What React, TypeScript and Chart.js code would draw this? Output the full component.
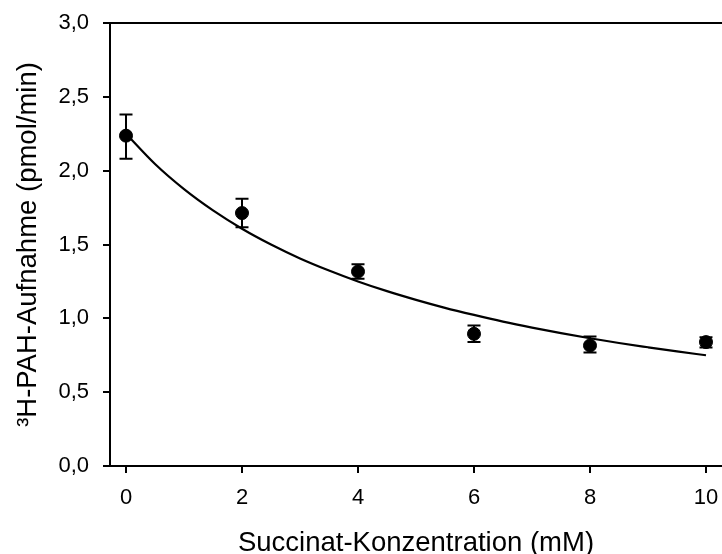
import React, { useEffect, useRef } from "react";
import { Chart, registerables } from "chart.js";

Chart.register(...registerables);

const concentrations = [0, 2, 4, 6, 8, 10];
const uptake = [2.237, 1.713, 1.317, 0.895, 0.816, 0.839];
const errLower = [2.08, 1.616, 1.268, 0.839, 0.768, 0.802];
const errUpper = [2.38, 1.81, 1.367, 0.951, 0.877, 0.872];

const fitX = [0, 0.5, 1, 1.5, 2, 2.5, 3, 3.5, 4, 4.5, 5, 5.5, 6, 6.5, 7, 7.5, 8, 8.5, 9, 9.5, 10];
const fitY = [2.25, 2.045, 1.875, 1.731, 1.607, 1.5, 1.406, 1.324, 1.25, 1.184, 1.125, 1.071, 1.023, 0.978, 0.9375, 0.9, 0.865, 0.833, 0.804, 0.776, 0.75];

const xTicks = [0, 2, 4, 6, 8, 10];
const xTitle = "Succinat-Konzentration (mM)";
const yTitle = "³H-PAH-Aufnahme (pmol/min)";

const errorBarPlugin = {
  id: "errorBars",
  afterDatasetsDraw(chart: any) {
    const { ctx, scales } = chart;
    const xs = scales.x;
    const ys = scales.y;
    ctx.save();
    ctx.strokeStyle = "#000";
    ctx.lineWidth = 2;
    const cap = 6.5;
    concentrations.forEach((c, i) => {
      const px = xs.getPixelForValue(c);
      const pLo = ys.getPixelForValue(errLower[i]);
      const pHi = ys.getPixelForValue(errUpper[i]);
      ctx.beginPath();
      ctx.moveTo(px, pLo);
      ctx.lineTo(px, pHi);
      ctx.moveTo(px - cap, pLo);
      ctx.lineTo(px + cap, pLo);
      ctx.moveTo(px - cap, pHi);
      ctx.lineTo(px + cap, pHi);
      ctx.stroke();
    });
    ctx.restore();
  },
};

const topFramePlugin = {
  id: "topFrame",
  afterDraw(chart: any) {
    const { ctx, chartArea } = chart;
    ctx.save();
    ctx.strokeStyle = "#000";
    ctx.lineWidth = 2;
    ctx.beginPath();
    ctx.moveTo(chartArea.left - 7, chartArea.top);
    ctx.lineTo(chartArea.right, chartArea.top);
    ctx.stroke();
    ctx.restore();
  },
};

export default function App() {
  const ref = useRef<HTMLCanvasElement | null>(null);

  useEffect(() => {
    document.body.style.margin = "0";
    const canvas = ref.current;
    if (!canvas) return;
    const font = "'Liberation Sans', Arial, sans-serif";
    const chart = new Chart(canvas, {
      type: "scatter",
      data: {
        datasets: [
          {
            type: "line",
            label: "fit",
            data: fitX.map((x, i) => ({ x, y: fitY[i] })),
            borderColor: "#000",
            borderWidth: 2.2,
            pointRadius: 0,
            tension: 0.4,
            cubicInterpolationMode: "monotone",
            fill: false,
          } as any,
          {
            label: "data",
            data: concentrations.map((x, i) => ({ x, y: uptake[i] })),
            backgroundColor: "#000",
            borderColor: "#000",
            pointRadius: 6.5,
            pointHoverRadius: 6.5,
          },
        ],
      },
      options: {
        responsive: false,
        animation: false,
        layout: { autoPadding: false, padding: { top: 23, left: 0, right: 0, bottom: 0 } },
        plugins: {
          legend: { display: false },
          tooltip: { enabled: false },
        },
        scales: {
          x: {
            type: "linear",
            min: -0.276,
            max: 10.276,
            afterBuildTicks: (scale: any) => {
              scale.ticks = xTicks.map((v) => ({ value: v }));
            },
            afterFit: (scale: any) => {
              scale.height = 88;
              scale.paddingLeft = 0;
              scale.paddingRight = 0;
            },
            grid: {
              drawOnChartArea: false,
              drawTicks: true,
              tickLength: 7,
              color: "#000",
              lineWidth: 2,
            },
            border: { color: "#000", width: 2 },
            ticks: {
              color: "#000",
              font: { family: font, size: 22 },
              padding: 12,
              maxRotation: 0,
              callback: (v: any) => String(v),
            },
            title: {
              display: true,
              text: xTitle,
              color: "#000",
              font: { family: font, size: 27.5, lineHeight: 0.8 },
              padding: { top: 0, bottom: 0 },
            },
          },
          y: {
            type: "linear",
            min: 0,
            max: 3,
            afterFit: (scale: any) => {
              scale.width = 110;
              scale.paddingTop = 0;
              scale.paddingBottom = 0;
            },
            grid: {
              drawOnChartArea: false,
              drawTicks: true,
              tickLength: 7,
              color: "#000",
              lineWidth: 2,
            },
            border: { color: "#000", width: 2 },
            ticks: {
              stepSize: 0.5,
              color: "#000",
              font: { family: font, size: 22 },
              padding: 14,
              callback: (v: any) => Number(v).toFixed(1).replace(".", ","),
            },
            title: {
              display: true,
              text: yTitle,
              color: "#000",
              font: { family: font, size: 27.5, lineHeight: 1 },
              padding: { top: 15, bottom: 0 },
            },
          },
        },
      } as any,
      plugins: [errorBarPlugin, topFramePlugin],
    });
    return () => chart.destroy();
  }, []);

  return (
    <div style={{ width: 722, height: 554, background: "#fff" }}>
      <canvas ref={ref} width={722} height={554} style={{ display: "block" }} />
    </div>
  );
}
